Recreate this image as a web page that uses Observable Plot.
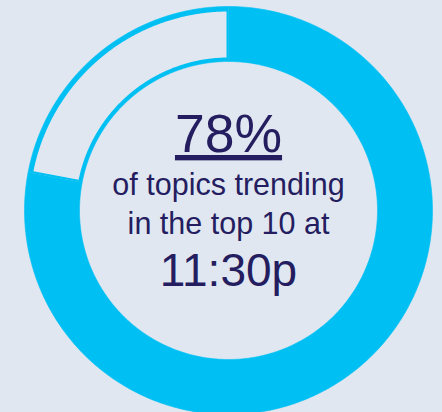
<!DOCTYPE html>
<html><head><meta charset="utf-8">
<script src="https://cdn.jsdelivr.net/npm/d3@7"></script>
<script src="https://cdn.jsdelivr.net/npm/@observablehq/plot@0.6"></script>
<style>
html,body{margin:0;padding:0;background:#e1e7f1;}
#chart{width:442px;height:412px;overflow:hidden;}
#chart svg{display:block;}
</style></head><body><div id="chart"></div>
<script>
// ---- data ----
const categories = ["Trending in top 10", "Not in top 10"];
const values = [78, 22];
const headline = ["78%"];
const captionLines = ["of topics trending", "in the top 10 at"];
const timeLabel = ["11:30p"];

// ---- layout / style ----
const W = 442, H = 412, CX = 228, CY = 210, R_OUT = 204, R_IN = 149;
const CYAN = "#00c0f3", BG = "#e1e7f1", NAVY = "#241d5f";
const FONT = "'Liberation Sans', Arial, Helvetica, sans-serif";

const pie = d3.pie().sort(null).value(d => d.value);
const arcs = pie(categories.map((c, i) => ({category: c, value: values[i]})));

function ringPolygon(arc, rIn, rOut, edgeInset, key) {
  const pts = [];
  const n = 300;
  const oa0 = arc.startAngle + Math.asin(edgeInset / rOut);
  const oa1 = arc.endAngle - Math.asin(edgeInset / rOut);
  const ia0 = arc.startAngle + Math.asin(edgeInset / rIn);
  const ia1 = arc.endAngle - Math.asin(edgeInset / rIn);
  for (let i = 0; i <= n; i++) {
    const a = oa0 + (oa1 - oa0) * i / n;
    pts.push({key, x: rOut * Math.sin(a), y: rOut * Math.cos(a)});
  }
  for (let i = n; i >= 0; i--) {
    const a = ia0 + (ia1 - ia0) * i / n;
    pts.push({key, x: rIn * Math.sin(a), y: rIn * Math.cos(a)});
  }
  return pts;
}

// every slice drawn as a full-thickness cyan ring segment
const filled = arcs.flatMap((a, i) => ringPolygon(a, R_IN, R_OUT, 0, "slice" + i));
// the remainder slice is hollowed out so only its outline remains
const hollow = ringPolygon(arcs[1], R_IN + 4, R_OUT - 5, 2, "hollow");

const plot = Plot.plot({
  width: W,
  height: H,
  margin: 0,
  x: {domain: [-CX, W - CX], range: [0, W], axis: null},
  y: {domain: [CY - H, CY], range: [H, 0], axis: null},
  style: {background: "transparent", fontFamily: FONT},
  marks: [
    Plot.line(filled, {x: "x", y: "y", z: "key", fill: CYAN, stroke: CYAN, strokeWidth: 0.6, curve: "linear"}),
    Plot.line(hollow, {x: "x", y: "y", z: "key", fill: BG, stroke: "none", curve: "linear"}),
    Plot.text(headline, {x: () => 0, y: () => 58.5, text: d => d, fontSize: 53.5, fill: NAVY, lineAnchor: "bottom", fontFamily: FONT}),
    Plot.text(captionLines, {x: () => 0, y: (d, i) => 16 - i * 39, text: d => d, fontSize: 30.5, fill: NAVY, lineAnchor: "bottom", fontFamily: FONT}),
    Plot.text(timeLabel, {x: () => 0, y: () => -75, text: d => d, fontSize: 46, fill: NAVY, lineAnchor: "bottom", fontFamily: FONT})
  ]
});
plot.querySelectorAll("text").forEach(t => {
  if (t.textContent === headline[0]) t.style.textDecoration = "underline";
});
document.getElementById("chart").appendChild(plot);
</script>
</body></html>
